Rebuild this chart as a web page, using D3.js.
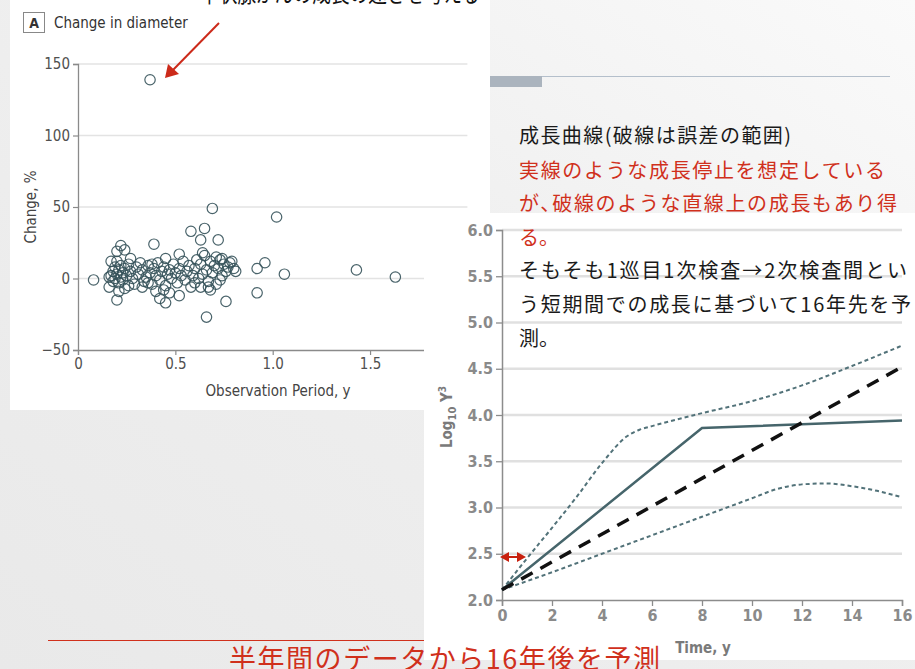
<!DOCTYPE html>
<html>
<head>
<meta charset="utf-8">
<script src="https://cdn.jsdelivr.net/npm/d3@7"></script>
<style>
  html, body { margin: 0; padding: 0; background: #ececec; }
  svg { display: block; }
  .cond { font-family: "DejaVu Sans Condensed", "Liberation Sans Narrow", "DejaVu Sans", sans-serif; font-stretch: condensed; }
  .jp { font-family: "Noto Sans CJK JP", "Noto Sans", sans-serif; }
</style>
</head>
<body>
<script>
// ---- Panel A: change in diameter vs observation period ----
const scatterPoints = [
  [0.37,139],[0.69,49],[1.02,43],[0.58,33],[0.65,35],[0.63,27],[0.72,27],[0.39,24],
  [0.22,23],[0.20,19],[0.24,20],[0.27,14],[0.17,12],[0.52,17],[0.64,18],[0.71,15],
  [0.45,14],[0.92,7],[0.96,11],[1.06,3],[1.43,6],[1.63,1],[0.81,5],[0.78,11],
  [0.08,-1],[0.92,-10],[0.76,-16],[0.66,-27],[0.52,-12],[0.45,-17],[0.42,-14],[0.40,-9],
  [0.21,-9],[0.20,-15],[0.16,-6],[0.26,-5],[0.58,-6],[0.63,-6],[0.67,-6],[0.73,-1],
  [0.17,2],[0.18,5],[0.19,8],[0.20,3],[0.21,6],[0.22,1],[0.22,9],[0.23,4],[0.24,7],
  [0.18,-2],[0.25,2],[0.26,10],[0.19,0],[0.21,-3],[0.23,-1],[0.27,5],[0.28,0],[0.29,-4],
  [0.30,8],[0.16,1],[0.20,12],[0.24,-7],
  [0.31,3],[0.33,6],[0.34,-2],[0.35,1],[0.36,9],[0.37,4],[0.38,-4],[0.39,7],[0.40,2],
  [0.41,11],[0.42,-1],[0.43,5],[0.44,8],[0.45,-5],[0.46,3],[0.47,6],[0.48,0],[0.49,10],
  [0.50,4],[0.51,-3],[0.52,7],[0.53,2],[0.54,12],[0.55,-1],[0.33,-6],[0.44,-8],[0.38,10],
  [0.47,-10],[0.32,11],[0.36,-3],
  [0.56,5],[0.57,9],[0.59,2],[0.60,7],[0.61,13],[0.62,0],[0.63,10],[0.64,3],[0.65,16],
  [0.66,6],[0.67,-2],[0.68,12],[0.69,4],[0.70,9],[0.71,-4],[0.72,7],[0.73,13],[0.74,2],
  [0.75,10],[0.76,5],[0.77,8],[0.79,12],[0.80,7],[0.60,-3],[0.68,-8],[0.74,14]
];
const scatterXTicks = [0, 0.5, 1.0, 1.5, 2.0];
const scatterYTicks = [-50, 0, 50, 100, 150];

// ---- Growth curves: log10 volume over time ----
const growthYears = [0, 8, 16];
const growthSolid = [2.11, 3.86, 3.94];
const linearYears = [0, 16];
const growthLinear = [2.11, 4.52];
const upperYears = [0, 1, 2, 3, 4, 5, 5.5, 6, 8, 10, 12, 14, 16];
const upperBound = [2.11, 2.45, 2.78, 3.12, 3.48, 3.77, 3.84, 3.88, 4.02, 4.15, 4.32, 4.53, 4.75];
const lowerYears = [0, 2, 4, 6, 8, 10, 11, 12, 13, 14, 15, 16];
const lowerBound = [2.11, 2.30, 2.50, 2.70, 2.90, 3.10, 3.20, 3.25, 3.26, 3.23, 3.18, 3.11];
const timeTicks = [0, 2, 4, 6, 8, 10, 12, 14, 16];
const logTicks = [2.0, 2.5, 3.0, 3.5, 4.0, 4.5, 5.0, 5.5, 6.0];

// ---- Slide text ----
const headingText = "甲状腺がんの成長の速さを考える";
const noteLines = [
  { text: "成長曲線(破線は誤差の範囲)", color: "#1a1a1a", width: 272 },
  { text: "実線のような成長停止を想定している", color: "#d0301c", width: 366 },
  { text: "が､破線のような直線上の成長もあり得", color: "#d0301c", width: 378 },
  { text: "る。", color: "#d0301c", width: null },
  { text: "そもそも1巡目1次検査→2次検査間とい", color: "#1a1a1a", width: 388 },
  { text: "う短期間での成長に基づいて16年先を予", color: "#1a1a1a", width: 392 },
  { text: "測。", color: "#1a1a1a", width: null }
];
const footerText = "半年間のデータから16年後を予測";

const W = 915, H = 669;
const svg = d3.select("body").append("svg").attr("width", W).attr("height", H);

// slide background
const defs = svg.append("defs");
const bg = defs.append("linearGradient").attr("id", "bg")
  .attr("x1", "1").attr("y1", "0").attr("x2", "0").attr("y2", "1");
bg.append("stop").attr("offset", "0%").attr("stop-color", "#fafafa");
bg.append("stop").attr("offset", "45%").attr("stop-color", "#efefef");
bg.append("stop").attr("offset", "100%").attr("stop-color", "#e9e9e9");
svg.append("rect").attr("width", W).attr("height", H).attr("fill", "url(#bg)");

// decorative rule with accent block
svg.append("line").attr("x1", 490).attr("x2", 890).attr("y1", 76.5).attr("y2", 76.5)
  .attr("stroke", "#b4bfcb").attr("stroke-width", 1);
svg.append("rect").attr("x", 490).attr("y", 76).attr("width", 52).attr("height", 11).attr("fill", "#abb4be");

// ================= Panel A =================
svg.append("rect").attr("x", 10).attr("y", 0).attr("width", 480).attr("height", 410).attr("fill", "#ffffff");

// heading, mostly above the visible area
svg.append("text").attr("class", "jp").attr("x", 200).attr("y", 2)
  .attr("font-size", 24).attr("fill", "#111")
  .attr("textLength", 280).attr("lengthAdjust", "spacingAndGlyphs").text(headingText);

const xA = d3.scaleLinear().domain([0, 2]).range([78, 467.4]);
const yA = d3.scaleLinear().domain([-50, 150]).range([350, 64]);
const gA = svg.append("g");

// gridlines
gA.selectAll("line.grid").data(scatterYTicks.filter(d => d > -50)).join("line")
  .attr("x1", xA(0)).attr("x2", xA(2)).attr("y1", d => yA(d)).attr("y2", d => yA(d))
  .attr("stroke", "#e3e3e3").attr("stroke-width", 1.5);

const fmtA = d => d === 0 ? "0" : d.toFixed(1);
const axA_y = gA.append("g").attr("transform", `translate(${xA(0)},0)`)
  .call(d3.axisLeft(yA).tickValues(scatterYTicks).tickSize(5).tickPadding(3));
const axA_x = gA.append("g").attr("transform", `translate(0,${yA(-50)})`)
  .call(d3.axisBottom(xA).tickValues(scatterXTicks).tickFormat(fmtA).tickSize(5).tickPadding(3));
[axA_y, axA_x].forEach(ax => {
  ax.select(".domain").attr("stroke", "#8a8a8a").attr("stroke-width", 1.3);
  ax.selectAll(".tick line").attr("stroke", "#8a8a8a").attr("stroke-width", 1.2);
  ax.selectAll(".tick text").attr("class", "cond").attr("font-size", 15).attr("fill", "#505050");
});

// panel label
gA.append("rect").attr("x", 23.5).attr("y", 12.5).attr("width", 21).attr("height", 20)
  .attr("fill", "#fff").attr("stroke", "#888").attr("stroke-width", 1);
gA.append("text").attr("class", "cond").attr("x", 34).attr("y", 28).attr("text-anchor", "middle")
  .attr("font-size", 14).attr("font-weight", "bold").attr("fill", "#333").text("A");
gA.append("text").attr("class", "cond").attr("x", 54).attr("y", 28)
  .attr("font-size", 15).attr("fill", "#333").text("Change in diameter");

gA.append("text").attr("class", "cond").attr("transform", "translate(36,207) rotate(-90)")
  .attr("text-anchor", "middle").attr("font-size", 15).attr("fill", "#444").text("Change, %");
gA.append("text").attr("class", "cond").attr("x", 278).attr("y", 396)
  .attr("text-anchor", "middle").attr("font-size", 15).attr("fill", "#444").text("Observation Period, y");

// points
gA.selectAll("circle.pt").data(scatterPoints).join("circle")
  .attr("cx", d => xA(d[0])).attr("cy", d => yA(d[1])).attr("r", 5.2)
  .attr("fill", "none").attr("stroke", "#35525a").attr("stroke-width", 1.2).attr("stroke-opacity", 0.9);

// callout arrow to the largest change
const arrowCol = "#cc2a1a";
gA.append("line").attr("x1", 219).attr("y1", 23).attr("x2", 172).attr("y2", 71)
  .attr("stroke", arrowCol).attr("stroke-width", 2);
gA.append("path").attr("d", "M165,78 L168,64 L179,74 Z").attr("fill", arrowCol);

// bottom rule under the footer text
svg.append("line").attr("x1", 48).attr("x2", 424).attr("y1", 640.5).attr("y2", 640.5)
  .attr("stroke", "#d0301c").attr("stroke-width", 1);

// ================= Growth curve panel =================
svg.append("rect").attr("x", 424).attr("y", 213).attr("width", W - 424).attr("height", 447).attr("fill", "#ffffff");

const xB = d3.scaleLinear().domain([0, 16]).range([502, 902]);
const yB = d3.scaleLinear().domain([2, 6]).range([600, 230]);
const gB = svg.append("g");

gB.selectAll("line.grid").data(logTicks.filter(d => d > 2)).join("line")
  .attr("x1", xB(0)).attr("x2", xB(16)).attr("y1", d => yB(d)).attr("y2", d => yB(d))
  .attr("stroke", "#e0e0e0").attr("stroke-width", 2.5);

const axB_y = gB.append("g").attr("transform", `translate(${xB(0)},0)`)
  .call(d3.axisLeft(yB).tickValues(logTicks).tickFormat(d3.format(".1f")).tickSize(6).tickPadding(3));
const axB_x = gB.append("g").attr("transform", `translate(0,${yB(2)})`)
  .call(d3.axisBottom(xB).tickValues(timeTicks).tickFormat(d3.format("d")).tickSize(6).tickPadding(4));
[axB_y, axB_x].forEach(ax => {
  ax.select(".domain").attr("stroke", "#8c8c8c").attr("stroke-width", 1.5);
  ax.selectAll(".tick line").attr("stroke", "#8c8c8c").attr("stroke-width", 1.3);
  ax.selectAll(".tick text").attr("class", "cond").attr("font-size", 16).attr("font-weight", "bold").attr("fill", "#8a8a8a");
});

const yLab = gB.append("text").attr("class", "cond").attr("transform", "translate(452,417) rotate(-90)")
  .attr("text-anchor", "middle").attr("font-size", 15).attr("font-weight", "bold").attr("fill", "#7a7a7a");
yLab.append("tspan").text("Log");
yLab.append("tspan").attr("font-size", 11).attr("dy", 4).text("10");
yLab.append("tspan").attr("dy", -4).text(" Y");
yLab.append("tspan").attr("font-size", 10).attr("dy", -6).text("3");

gB.append("text").attr("class", "cond").attr("x", 703).attr("y", 653).attr("text-anchor", "middle")
  .attr("font-size", 15).attr("font-weight", "bold").attr("fill", "#7a7a7a").text("Time, y");

const lineGen = d3.line().x(d => xB(d[0])).y(d => yB(d[1]));
const smoothGen = d3.line().x(d => xB(d[0])).y(d => yB(d[1])).curve(d3.curveMonotoneX);
const zip = (xs, ys) => xs.map((x, i) => [x, ys[i]]);

gB.append("path").attr("d", smoothGen(zip(upperYears, upperBound)))
  .attr("fill", "none").attr("stroke", "#527279").attr("stroke-width", 2).attr("stroke-dasharray", "4,3");
gB.append("path").attr("d", smoothGen(zip(lowerYears, lowerBound)))
  .attr("fill", "none").attr("stroke", "#527279").attr("stroke-width", 2).attr("stroke-dasharray", "4,3");
gB.append("path").attr("d", lineGen(zip(growthYears, growthSolid)))
  .attr("fill", "none").attr("stroke", "#46656b").attr("stroke-width", 2.5);
gB.append("path").attr("d", lineGen(zip(linearYears, growthLinear)))
  .attr("fill", "none").attr("stroke", "#111").attr("stroke-width", 3.5).attr("stroke-dasharray", "13,9");

// half-year interval marker
const ay = 557, ax0 = 500, ax1 = 526;
gB.append("line").attr("x1", ax0 + 6).attr("x2", ax1 - 6).attr("y1", ay).attr("y2", ay)
  .attr("stroke", "#c8200e").attr("stroke-width", 2);
gB.append("path").attr("d", `M${ax0},${ay} L${ax0 + 9},${ay - 5} L${ax0 + 9},${ay + 5} Z M${ax1},${ay} L${ax1 - 9},${ay - 5} L${ax1 - 9},${ay + 5} Z`)
  .attr("fill", "#c8200e");

// ================= Notes =================
const baselines = [143, 178, 211, 245, 278, 312, 346];
const notes = svg.selectAll("text.note").data(noteLines).join("text")
  .attr("class", "jp").attr("x", 519).attr("y", (d, i) => baselines[i])
  .attr("font-size", 20).attr("fill", d => d.color)
  .text(d => d.text);
notes.filter(d => d.width).attr("textLength", d => d.width).attr("lengthAdjust", "spacing");

svg.append("text").attr("class", "jp").attr("x", 229).attr("y", 669)
  .attr("font-size", 27).attr("fill", "#d0301c")
  .attr("textLength", 431).attr("lengthAdjust", "spacing").text(footerText);
</script>
</body>
</html>
